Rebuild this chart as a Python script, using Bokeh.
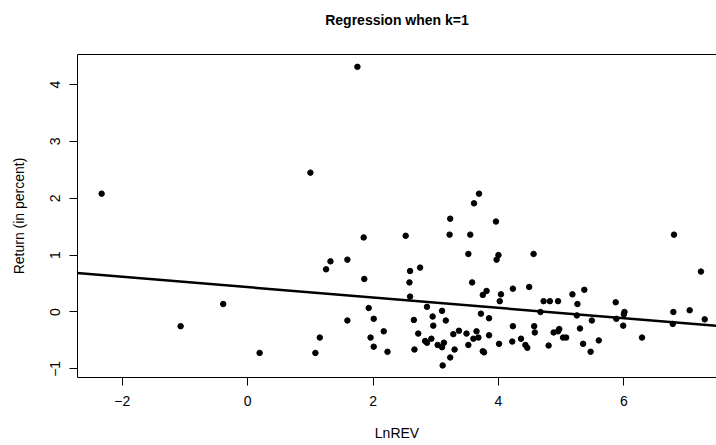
from bokeh.plotting import figure
from bokeh.models import LinearAxis, FixedTicker, Range1d, Slope, ColumnDataSource
from bokeh.embed import file_html
from bokeh.resources import INLINE

# Data
ln_rev = [-2.33, 1.00, 1.75, 3.69, 3.61, 3.23, 3.96, 1.85, 2.52, 3.22,
          3.55, 3.52, 4.00, 3.97, 6.80, 4.56, -0.39, -1.07, 0.19, 1.25,
          1.32, 1.59, 1.86, 2.59, 2.75, 2.58, 3.58, 2.59, 3.75, 3.81,
          4.04, 4.23, 4.49, 4.02, 1.93, 2.86, 3.10, 2.95, 3.16, 2.96,
          3.72, 3.85, 1.59, 2.01, 2.65, 2.17, 1.15, 1.08, 1.96, 2.01,
          2.23, 2.72, 2.66, 2.83, 2.86, 2.93, 3.03, 3.10, 3.13, 3.23,
          3.11, 3.28, 3.37, 3.30, 3.49, 3.65, 3.60, 3.68, 3.52, 3.75,
          3.77, 3.85, 4.01, 4.23, 4.22, 4.36, 4.43, 4.46, 7.23, 4.72,
          4.82, 4.95, 4.67, 4.57, 4.58, 4.80, 4.88, 4.95, 4.97, 5.03,
          5.08, 5.18, 5.26, 5.37, 5.25, 5.30, 5.49, 5.35, 5.47, 5.60,
          5.87, 5.88, 6.01, 6.00, 5.99, 6.29, 6.79, 6.78, 7.05, 7.29]
returns = [2.08, 2.45, 4.31, 2.08, 1.91, 1.64, 1.59, 1.31, 1.34, 1.36,
           1.36, 1.02, 1.00, 0.92, 1.36, 1.02, 0.14, -0.25, -0.72, 0.75,
           0.89, 0.92, 0.58, 0.72, 0.78, 0.52, 0.52, 0.27, 0.30, 0.37,
           0.31, 0.41, 0.44, 0.19, 0.07, 0.09, 0.02, -0.08, -0.15, -0.24,
           -0.03, -0.11, -0.15, -0.12, -0.14, -0.34, -0.45, -0.72, -0.45, -0.61,
           -0.70, -0.38, -0.66, -0.51, -0.54, -0.47, -0.58, -0.62, -0.54, -0.80,
           -0.94, -0.39, -0.33, -0.66, -0.38, -0.34, -0.47, -0.45, -0.58, -0.69,
           -0.71, -0.41, -0.56, -0.25, -0.52, -0.47, -0.58, -0.63, 0.71, 0.19,
           0.19, 0.19, 0.00, -0.25, -0.36, -0.59, -0.36, -0.34, -0.30, -0.45,
           -0.45, 0.31, 0.14, 0.39, -0.06, -0.29, -0.15, -0.56, -0.70, -0.50,
           0.17, -0.12, 0.00, -0.04, -0.24, -0.45, 0.00, -0.21, 0.03, -0.13]
reg_intercept = 0.436
reg_slope = -0.091
x_ticks = [-2, 0, 2, 4, 6]
y_ticks = [-1, 0, 1, 2, 3, 4]

FONT = "Liberation Sans"

p = figure(width=716, height=445, output_backend="svg", toolbar_location=None,
           x_range=Range1d(-2.715, 7.478), y_range=Range1d(-1.152, 4.527),
           min_border_left=77, min_border_right=0, min_border_top=54,
           min_border_bottom=68, background_fill_color="white",
           border_fill_color="white")
p.outline_line_color = None
p.grid.visible = False

p.title.text = "Regression when k=1"
p.title.align = "center"
p.title.vertical_align = "top"
p.title.text_font = FONT
p.title.text_font_style = "bold"
p.title.text_font_size = "14px"
p.title.text_color = "black"
p.title.offset = -14
p.title.standoff = 10

for ax in (p.xaxis[0], p.yaxis[0]):
    ax.axis_line_color = "black"
    ax.axis_line_width = 1
    ax.major_tick_line_color = "black"
    ax.major_tick_out = 8
    ax.major_tick_in = 0
    ax.minor_tick_line_color = None
    ax.major_label_text_font = FONT
    ax.major_label_text_font_size = "14px"
    ax.major_label_text_color = "black"
    ax.axis_label_text_font = FONT
    ax.axis_label_text_font_size = "14px"
    ax.axis_label_text_font_style = "normal"
    ax.axis_label_text_color = "black"

p.xaxis[0].ticker = FixedTicker(ticks=x_ticks)
p.yaxis[0].ticker = FixedTicker(ticks=y_ticks)
p.xaxis[0].axis_label = "LnREV"
p.yaxis[0].axis_label = "Return (in percent)"
p.xaxis[0].major_label_standoff = 10
p.xaxis[0].axis_label_standoff = 16
p.yaxis[0].major_label_orientation = "parallel"
p.yaxis[0].major_label_standoff = 9
p.yaxis[0].axis_label_standoff = 21

top = LinearAxis(ticker=FixedTicker(ticks=[]), axis_line_color="black",
                 major_tick_line_color=None, minor_tick_line_color=None,
                 major_label_text_font_size="0px", major_tick_out=0, major_tick_in=0,
                 axis_label=" ", axis_label_text_font_size="10px",
                 axis_label_standoff=6, axis_label_text_color=None)
p.add_layout(top, "above")

src = ColumnDataSource(dict(x=ln_rev, y=returns))
p.scatter("x", "y", source=src, size=5.5, color="black")
p.add_layout(Slope(gradient=reg_slope, y_intercept=reg_intercept,
                   line_color="black", line_width=2.5))

open("out.html", "w").write(file_html(p, INLINE))
